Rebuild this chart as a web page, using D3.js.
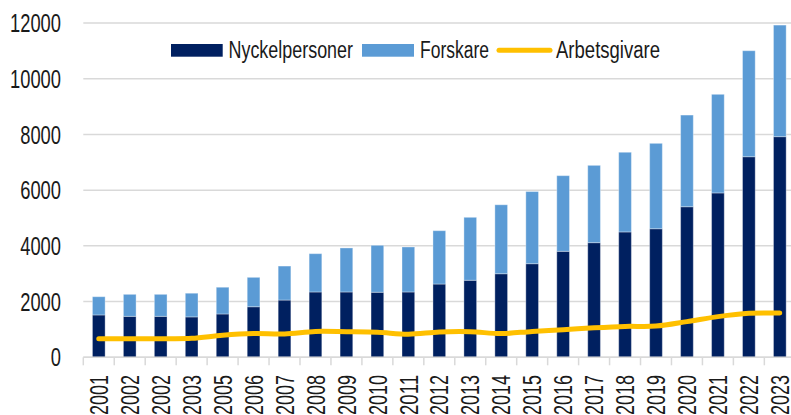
<!DOCTYPE html>
<html><head><meta charset="utf-8">
<script src="https://cdn.jsdelivr.net/npm/d3@7/dist/d3.min.js"></script>
<style>
html,body{margin:0;padding:0;background:#fff;overflow:hidden}
text{font-family:"Liberation Sans","Arial",sans-serif;fill:#1a1a1a}
</style></head>
<body>
<script>
const years = ["2001","2002","2002","2003","2005","2006","2007","2008","2009","2010","2011","2012","2013","2014","2015","2016","2017","2018","2019","2020","2021","2022","2023"];
const nyckelpersoner = [1520,1470,1470,1450,1555,1815,2055,2345,2345,2335,2345,2630,2765,3000,3360,3805,4115,4500,4615,5405,5900,7200,7920];
const forskare = [655,790,790,850,960,1055,1220,1375,1580,1685,1615,1915,2260,2475,2590,2715,2775,2860,3065,3290,3540,3805,4005];
const arbetsgivare = [670,670,670,680,790,850,840,930,920,900,830,910,920,850,930,990,1060,1110,1120,1280,1460,1580,1590];
const yTicks = [0,2000,4000,6000,8000,10000,12000];
const seriesNames = ["Nyckelpersoner","Forskare","Arbetsgivare"];
const colors = ["#002060","#5B9BD5","#FFC000"];

const W = 791, H = 415;
const svg = d3.select("body").append("svg").attr("width",W).attr("height",H);

const idx = d3.range(years.length);
const x = d3.scaleBand().domain(idx).range([83.3,795.3]).paddingInner(0.59).paddingOuter(0.295);
const y = d3.scaleLinear().domain([0,12000]).range([357.3,23]);

// gridlines
svg.append("g").selectAll("line").data(yTicks).join("line")
  .attr("x1",83.3).attr("x2",W).attr("y1",d=>y(d)).attr("y2",d=>y(d))
  .attr("stroke","#d9d9d9").attr("stroke-width",1.5);

// y labels
svg.append("g").selectAll("text").data(yTicks).join("text")
  .attr("x",61).attr("y",d=>y(d)).attr("dy","0.36em").attr("text-anchor","end")
  .attr("font-size",25.5)
  .attr("textLength",d=>String(d).length*10.2).attr("lengthAdjust","spacingAndGlyphs")
  .text(d=>d);

// stacked bars
const stackData = idx.map(i=>({i, a:nyckelpersoner[i], b:forskare[i]}));
const stack = d3.stack().keys(["a","b"])(stackData);
svg.append("g").selectAll("g").data(stack).join("g")
  .attr("fill",(d,k)=>colors[k])
  .selectAll("rect").data(d=>d).join("rect")
  .attr("x",d=>x(d.data.i)).attr("width",x.bandwidth())
  .attr("y",d=>y(d[1])).attr("height",d=>y(d[0])-y(d[1]))
  .attr("stroke","rgba(255,255,255,0.35)").attr("stroke-width",1);

// axis line and ticks at band boundaries
const step = x.step();
const x0 = 83.3;
svg.append("line").attr("x1",x0).attr("x2",W).attr("y1",y(0)).attr("y2",y(0))
  .attr("stroke","#d9d9d9").attr("stroke-width",1.5);
svg.append("g").selectAll("line").data(d3.range(years.length+1)).join("line")
  .attr("x1",i=>x0+i*step).attr("x2",i=>x0+i*step)
  .attr("y1",y(0)).attr("y2",y(0)+8)
  .attr("stroke","#d9d9d9").attr("stroke-width",1.5);

// x labels
svg.append("g").selectAll("text").data(idx).join("text")
  .attr("transform",i=>`translate(${x(i)+x.bandwidth()/2},375) rotate(-90)`)
  .attr("text-anchor","end").attr("dy","0.36em").attr("font-size",25.5)
  .attr("textLength",40).attr("lengthAdjust","spacingAndGlyphs")
  .text(i=>years[i]);

// line
const line = d3.line().x((d,i)=>x(i)+x.bandwidth()/2).y(d=>y(d)).curve(d3.curveCatmullRom.alpha(0.5));
svg.append("path").datum(arbetsgivare).attr("d",line)
  .attr("fill","none").attr("stroke",colors[2]).attr("stroke-width",5).attr("stroke-linecap","round");

// legend
const lg = svg.append("g");
const ly = 50.3;
lg.append("rect").attr("x",171).attr("y",44).attr("width",51.7).attr("height",12.7).attr("fill",colors[0]);
lg.append("text").attr("x",228.5).attr("y",57.5).attr("font-size",23.5)
  .attr("textLength",124.5).attr("lengthAdjust","spacingAndGlyphs").text(seriesNames[0]);
lg.append("rect").attr("x",362).attr("y",44).attr("width",52).attr("height",12.7).attr("fill",colors[1]);
lg.append("text").attr("x",420).attr("y",57.5).attr("font-size",23.5)
  .attr("textLength",69).attr("lengthAdjust","spacingAndGlyphs").text(seriesNames[1]);
lg.append("line").attr("x1",499).attr("x2",550).attr("y1",ly).attr("y2",ly)
  .attr("stroke",colors[2]).attr("stroke-width",5).attr("stroke-linecap","round");
lg.append("text").attr("x",556).attr("y",57.5).attr("font-size",23.5)
  .attr("textLength",104).attr("lengthAdjust","spacingAndGlyphs").text(seriesNames[2]);
</script>
</body></html>
